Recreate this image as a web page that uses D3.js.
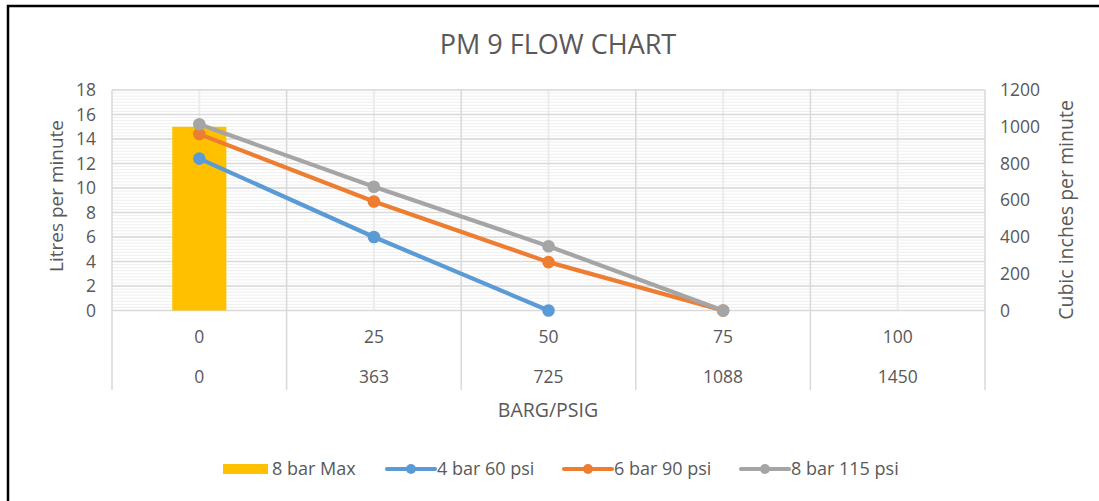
<!DOCTYPE html>
<html>
<head>
<meta charset="utf-8">
<script src="https://cdn.jsdelivr.net/npm/d3@7.9.0/dist/d3.min.js"></script>
<style>
  body { margin: 0; background: #fff; }
  svg text { font-family: "Open Sans", "Liberation Sans", sans-serif; fill: #595959; }
</style>
</head>
<body>
<svg id="chart" width="1099" height="501"></svg>
<script>
// data
const bargLabels = ['0', '25', '50', '75', '100'];
const psigLabels = ['0', '363', '725', '1088', '1450'];
const barMax8 = [15, null, null, null, null];
const bar4 = [12.4, 6, 0, null, null];
const bar6 = [14.4, 8.9, 3.95, 0, null];
const bar8 = [15.2, 10.1, 5.25, 0, null];
const leftTicks = [0, 2, 4, 6, 8, 10, 12, 14, 16, 18];
const rightTicks = [0, 200, 400, 600, 800, 1000, 1200];

const lineSeries = [
  { name: '4 bar 60 psi', values: bar4, color: '#5b9bd5' },
  { name: '6 bar 90 psi', values: bar6, color: '#ed7d31' },
  { name: '8 bar 115 psi', values: bar8, color: '#a5a5a5' }
];

const svg = d3.select('#chart');
const plotL = 112, plotR = 985, plotT = 90, plotB = 310.5;

// frame of the chart area (only top and left show)
svg.append('rect').attr('x', 8).attr('y', 6).attr('width', 1200).attr('height', 600)
  .attr('fill', 'none').attr('stroke', '#000').attr('stroke-width', 2.5);

let x = d3.scaleBand().domain(bargLabels).range([plotL, plotR]).padding(0);
let y = d3.scaleLinear().domain([0, 18]).range([plotB, plotT]);
let y2 = d3.scaleLinear().domain([0, 1200]).range([plotB, plotT]);
let cx = d => x(d) + x.bandwidth() / 2;

// minor horizontal grid
let minor = d3.range(0, 18.01, 0.25);
svg.append('g').selectAll('line').data(minor).join('line')
  .attr('x1', plotL).attr('x2', plotR)
  .attr('y1', d => y(d)).attr('y2', d => y(d))
  .attr('stroke', '#efefef').attr('stroke-width', 1);

// minor vertical grid at category centres
svg.append('g').selectAll('line').data(bargLabels).join('line')
  .attr('x1', cx).attr('x2', cx)
  .attr('y1', plotT).attr('y2', plotB)
  .attr('stroke', '#ececec').attr('stroke-width', 2);

// major horizontal grid
svg.append('g').selectAll('line').data(leftTicks).join('line')
  .attr('x1', plotL).attr('x2', plotR)
  .attr('y1', d => y(d)).attr('y2', d => y(d))
  .attr('stroke', '#d9d9d9').attr('stroke-width', 1.3);

// category boundaries, going down through the two label rows
let bounds = bargLabels.map(d => x(d)).concat([plotR]);
svg.append('g').selectAll('line').data(bounds).join('line')
  .attr('x1', d => d).attr('x2', d => d)
  .attr('y1', plotT).attr('y2', 390)
  .attr('stroke', '#d9d9d9').attr('stroke-width', 1.5);

const tickSize = 17.5;

// left axis labels
svg.append('g').selectAll('text').data(leftTicks).join('text')
  .attr('x', 96).attr('y', d => y(d)).attr('dy', '0.35em')
  .attr('text-anchor', 'end').attr('font-size', tickSize).text(d => d);

// right axis labels
svg.append('g').selectAll('text').data(rightTicks).join('text')
  .attr('x', 1000).attr('y', d => y2(d)).attr('dy', '0.35em')
  .attr('text-anchor', 'start').attr('font-size', tickSize).text(d => d);

// category label rows
svg.append('g').selectAll('text').data(bargLabels).join('text')
  .attr('x', cx).attr('y', 337).attr('dy', '0.35em')
  .attr('text-anchor', 'middle').attr('font-size', tickSize).text(d => d);
svg.append('g').selectAll('text').data(psigLabels).join('text')
  .attr('x', (d, i) => cx(bargLabels[i])).attr('y', 377).attr('dy', '0.35em')
  .attr('text-anchor', 'middle').attr('font-size', tickSize).text(d => d);

// bar series
let barW = x.bandwidth() * 0.31;
svg.append('g').selectAll('rect').data(barMax8.map((v, i) => ({ v, c: bargLabels[i] })).filter(d => d.v != null))
  .join('rect')
  .attr('x', d => cx(d.c) - barW / 2)
  .attr('y', d => y(d.v)).attr('width', barW).attr('height', d => y(0) - y(d.v))
  .attr('fill', '#ffc000');

// line series
let line = d3.line().x(d => cx(d.c)).y(d => y(d.v));
lineSeries.forEach(s => {
  let pts = s.values.map((v, i) => ({ v, c: bargLabels[i] })).filter(d => d.v != null);
  svg.append('path').datum(pts).attr('d', line)
    .attr('fill', 'none').attr('stroke', s.color).attr('stroke-width', 4.2)
    .attr('stroke-linecap', 'round').attr('stroke-linejoin', 'round');
  svg.append('g').selectAll('circle').data(pts).join('circle')
    .attr('cx', d => cx(d.c)).attr('cy', d => y(d.v)).attr('r', 6.3)
    .attr('fill', s.color);
});

// title and axis titles
svg.append('text').attr('x', 558).attr('y', 45).attr('dy', '0.35em')
  .attr('text-anchor', 'middle').attr('font-size', 27).text('PM 9 FLOW CHART');
svg.append('text').attr('transform', 'translate(56,196) rotate(-90)').attr('dy', '0.35em')
  .attr('text-anchor', 'middle').attr('font-size', 19).text('Litres per minute');
svg.append('text').attr('transform', 'translate(1066,210) rotate(-90)').attr('dy', '0.35em')
  .attr('text-anchor', 'middle').attr('font-size', 19.5).text('Cubic inches per minute');
svg.append('text').attr('x', 548).attr('y', 410).attr('dy', '0.35em')
  .attr('text-anchor', 'middle').attr('font-size', 19.5).text('BARG/PSIG');

// legend
let ly = 469;
let lg = svg.append('g');
lg.append('rect').attr('x', 223).attr('y', ly - 5).attr('width', 45).attr('height', 10).attr('fill', '#ffc000');
lg.append('text').attr('x', 272).attr('y', ly).attr('dy', '0.35em').attr('font-size', 18).text('8 bar Max');
let legX = [387, 564, 741];
lineSeries.forEach((s, i) => {
  lg.append('line').attr('x1', legX[i]).attr('x2', legX[i] + 48).attr('y1', ly).attr('y2', ly)
    .attr('stroke', s.color).attr('stroke-width', 4.2).attr('stroke-linecap', 'round');
  lg.append('circle').attr('cx', legX[i] + 24).attr('cy', ly).attr('r', 5).attr('fill', s.color);
  lg.append('text').attr('x', legX[i] + 50).attr('y', ly).attr('dy', '0.35em').attr('font-size', 18).text(s.name);
});
</script>
</body>
</html>
